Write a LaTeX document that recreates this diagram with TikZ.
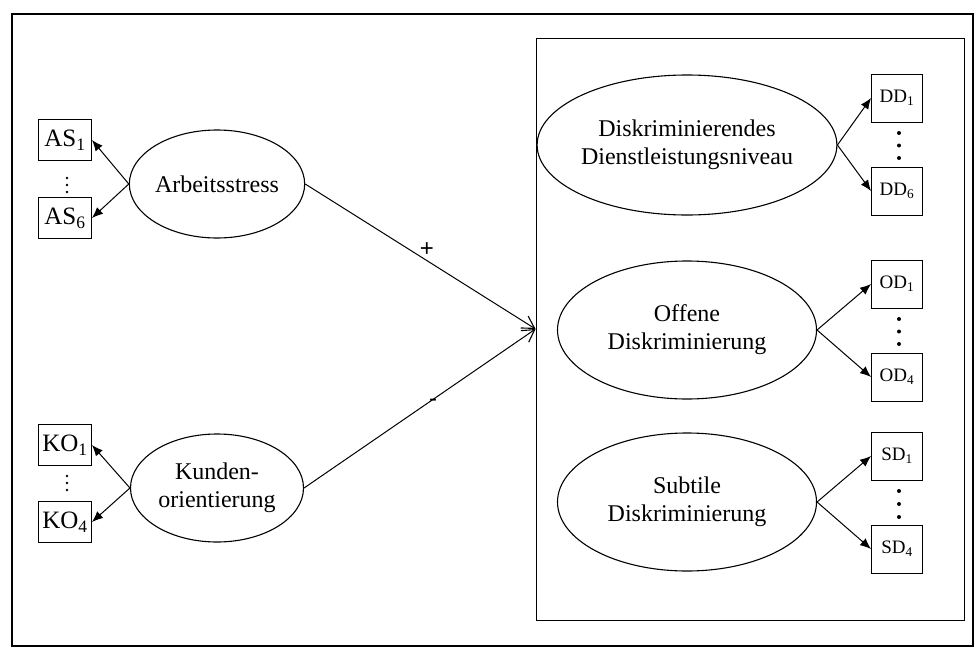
\documentclass[tikz,border=0pt]{standalone}
\usepackage{fontspec}
\setmainfont{Liberation Serif}
\newfontfamily\signfont{Liberation Sans}
\usetikzlibrary{shapes.geometric,arrows.meta}
\begin{document}
\begin{tikzpicture}[x=1pt,y=-1pt,
  latent/.style={ellipse,draw,line width=1.1pt,inner sep=0pt,align=center,
    font=\fontsize{24}{28}\selectfont},
  indl/.style={draw,line width=0.9pt,minimum width=53pt,minimum height=41pt,
    inner sep=0pt,font=\fontsize{25}{28}\selectfont},
  indr/.style={draw,line width=0.9pt,minimum width=51pt,minimum height=48pt,
    inner sep=0pt,font=\fontsize{19}{22}\selectfont},
  load/.style={line width=1pt,-{Latex[length=11pt,width=9pt]}},
  effect/.style={line width=1pt,-{Straight Barb[length=12pt,width=14pt,line width=1.1pt]}},
  sign/.style={font=\signfont\fontsize{24}{26}\selectfont,inner sep=0pt}]
\useasboundingbox (0,0) rectangle (975,648);

% outer frame
\draw[line width=2pt] (12,14) rectangle (973,646);

% dependent constructs grouped in one box
\node[draw,line width=0.9pt,minimum width=428pt,minimum height=582pt,inner sep=0pt]
  (grp) at (750,329) {};

% exogenous constructs
\node[latent,minimum width=171pt,minimum height=108pt] (as) at (217,184) {Arbeitsstress};
\node[latent,minimum width=173pt,minimum height=108pt] (ko) at (217,488) {Kunden-\\orientierung};

% endogenous constructs
\node[latent,minimum width=259pt,minimum height=140pt] (dd) at (687,145)
  {Diskriminierendes\\Dienstleistungsniveau};
\node[latent,minimum width=259pt,minimum height=138pt] (od) at (687,330)
  {Offene\\Diskriminierung};
\node[latent,minimum width=259pt,minimum height=138pt] (sd) at (687,502)
  {Subtile\\Diskriminierung};

% left indicators
\node[indl] (as1) at (65,140) {AS\textsubscript{1}};
\node[indl] (as6) at (65,218) {AS\textsubscript{6}};
\node[indl] (ko1) at (65,445) {KO\textsubscript{1}};
\node[indl] (ko4) at (65,522) {KO\textsubscript{4}};

% right indicators
\node[indr] (dd1) at (897,98)  {DD\textsubscript{1}};
\node[indr] (dd6) at (897,191) {DD\textsubscript{6}};
\node[indr] (od1) at (897,284) {OD\textsubscript{1}};
\node[indr] (od4) at (897,377) {OD\textsubscript{4}};
\node[indr] (sd1) at (897,456) {SD\textsubscript{1}};
\node[indr] (sd4) at (897,549) {SD\textsubscript{4}};

% vertical ellipsis dots between indicators
\foreach \y in {178,185,192} \fill (67,\y) circle (1.3pt);
\foreach \y in {476,483,490} \fill (67,\y) circle (1.3pt);
\foreach \y in {133,145.5,158} \fill (899,\y) circle (2pt);
\foreach \y in {319,331.5,344} \fill (899,\y) circle (2pt);
\foreach \y in {491,504,517} \fill (899,\y) circle (2pt);

% loadings
\draw[load] (as.west) -- (as1.east);
\draw[load] (as.west) -- (as6.east);
\draw[load] (ko.west) -- (ko1.east);
\draw[load] (ko.west) -- (ko4.east);
\foreach \c in {dd,od,sd} {
  \draw[load] (\c.east) -- (\c1.west);
}
\draw[load] (dd.east) -- (dd6.west);
\draw[load] (od.east) -- (od4.west);
\draw[load] (sd.east) -- (sd4.west);

% structural effects
\draw[effect] (as.east) -- (grp.west);
\draw[effect] (ko.east) -- (grp.west);
\node[sign] (plus) at (427,250) {+};
\node[sign] (minus) at (433,403) {-};
\end{tikzpicture}
\end{document}
